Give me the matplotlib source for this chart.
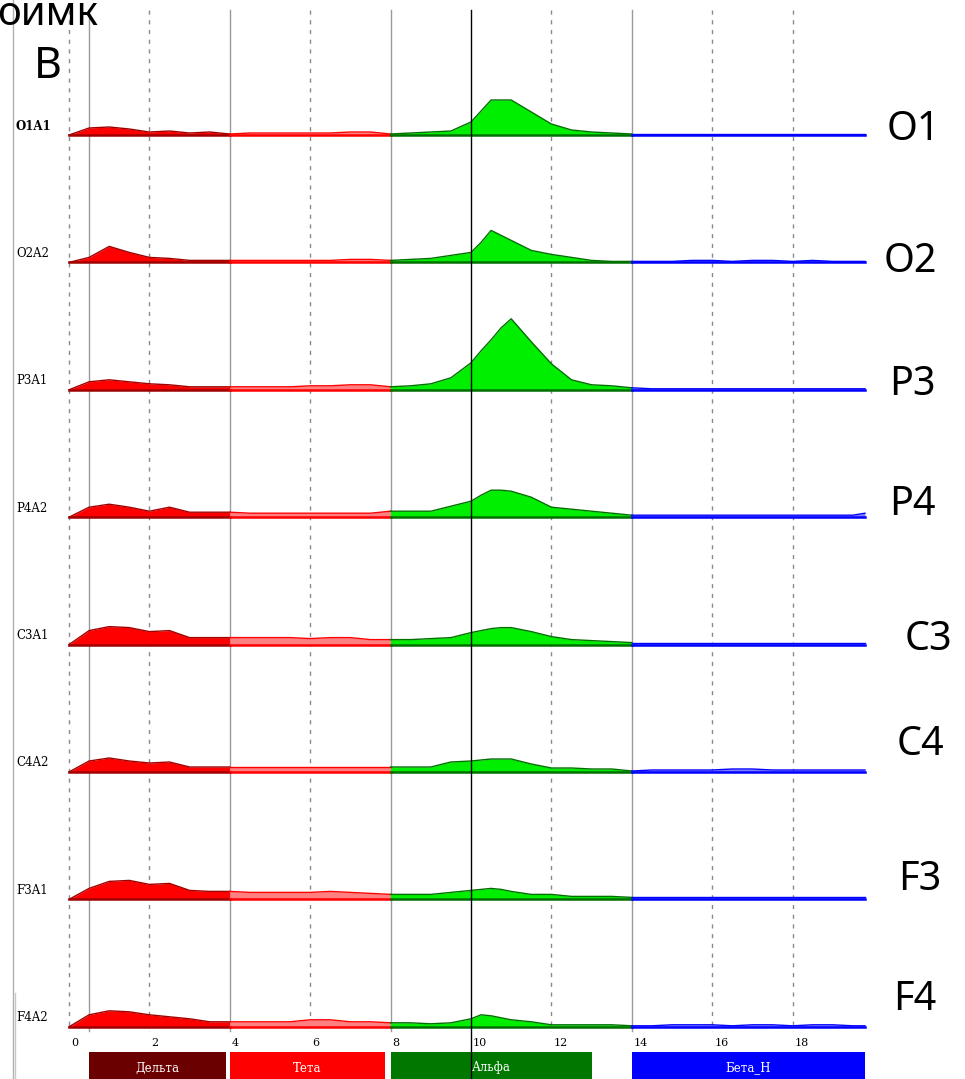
import matplotlib
matplotlib.use("Agg")
import matplotlib.pyplot as plt
import numpy as np

# spectrum frequencies, Hz
freqs = [0, 0.5, 1, 1.5, 2, 2.5, 3, 3.5, 4, 4.5, 5, 5.5, 6, 6.5, 7, 7.5,
         8, 8.5, 9, 9.5, 10, 10.25, 10.5, 10.75, 11, 11.5, 12, 12.5, 13, 13.5,
         14, 14.5, 15, 15.5, 16, 16.5, 17, 17.5, 18, 18.5, 19, 19.5, 19.8]

channels = ["O1A1", "O2A2", "P3A1", "P4A2", "C3A1", "C4A2", "F3A1", "F4A2"]
right_labels = ["O1", "O2", "P3", "P4", "C3", "C4", "F3", "F4"]

# amplitudes: delta 0-4 | theta 4.5-7.5 | alpha 8-13.5 | beta 14-19.8
o1 = ([0, 7, 8, 6, 3, 4, 2, 3, 1] + [2, 2, 2, 2, 2, 3, 3]
      + [1, 2, 3, 4, 13, 24, 35, 35, 35, 23, 11, 5, 3, 2]
      + [1, 1, 1, 1, 1, 1, 1, 1, 1, 1, 1, 1, 1])
o2 = ([0, 5, 16, 10, 5, 4, 2, 2, 2] + [2, 2, 2, 2, 2, 3, 3]
      + [2, 3, 4, 7, 10, 20, 32, 27, 22, 12, 8, 5, 2, 1]
      + [1, 1, 1, 2, 2, 1, 2, 2, 1, 2, 1, 1, 1])
p3 = ([0, 8, 10, 8, 6, 5, 3, 3, 3] + [3, 3, 3, 4, 4, 5, 5]
      + [3, 4, 6, 12, 27, 39, 50, 62, 71, 48, 26, 10, 5, 4]
      + [2, 1, 1, 1, 1, 1, 1, 1, 1, 1, 1, 1, 1])
p4 = ([0, 10, 13, 10, 6, 10, 5, 5, 5] + [4, 4, 4, 4, 4, 4, 4]
      + [6, 6, 6, 11, 16, 22, 27, 27, 26, 20, 10, 8, 6, 4]
      + [2, 2, 2, 2, 2, 2, 2, 2, 2, 2, 2, 2, 4])
c3 = ([0, 14, 18, 17, 13, 14, 7, 7, 7] + [7, 7, 7, 6, 7, 7, 5]
      + [5, 5, 6, 7, 12, 14, 16, 17, 17, 13, 8, 5, 4, 3]
      + [2, 2, 2, 2, 2, 2, 2, 2, 2, 2, 2, 2, 2])
c4 = ([0, 11, 14, 11, 9, 10, 5, 5, 5] + [5, 5, 5, 5, 5, 5, 5]
      + [5, 5, 5, 10, 11, 12, 13, 13, 13, 8, 4, 4, 3, 3]
      + [1, 2, 2, 2, 2, 3, 3, 2, 2, 2, 2, 2, 2])
f3 = ([0, 11, 18, 19, 15, 16, 9, 8, 8] + [7, 7, 7, 7, 8, 7, 6]
      + [5, 5, 5, 7, 9, 10, 11, 10, 8, 5, 5, 3, 3, 3]
      + [2, 2, 2, 2, 2, 2, 2, 2, 2, 2, 2, 2, 2])
f4 = ([0, 12, 16, 15, 12, 10, 8, 5, 5] + [5, 5, 5, 7, 7, 5, 5]
      + [4, 4, 3, 4, 8, 12, 11, 9, 7, 5, 2, 2, 2, 2]
      + [1, 1, 2, 2, 2, 1, 2, 2, 1, 2, 2, 1, 1])
spectra = [o1, o2, p3, p4, c3, c4, f3, f4]

bands = [("Дельта", 0, 4), ("Тета", 4, 8), ("Альфа", 8, 14), ("Бета_H", 14, 19.8)]
band_fill = ["#ff0000", "#ff8080", "#00ee00", "#8080ff"]
band_edge = ["#a00000", "#ff0000", "#007000", "#0000ff"]
bar_spans = [(0.5, 3.9), (4.0, 7.85), (8.0, 13.0), (14.0, 19.8)]
bar_colors = ["#6b0000", "#ff0000", "#007800", "#0000ff"]

W, H = 965, 1079
fig = plt.figure(figsize=(W / 100, H / 100), dpi=100)


def px(x, y):
    return x / W, 1 - y / H


ax = fig.add_axes([13 / W, 0, (870 - 13) / W, 1])
ax.set_xlim((13 - 69) / 40.2, (870 - 69) / 40.2)
ax.set_ylim(H, 0)
ax.axis("off")

# grid lines
for g in [0, 2, 6, 12, 16, 18]:
    ax.plot([g, g], [10, 1031], color="#8a8a8a", lw=1, ls=(0, (3, 4)), zorder=1)
for g in [0.5, 4, 8, 14]:
    ax.plot([g, g], [10, 1031], color="#9a9a9a", lw=1, zorder=1)
ax.plot([10, 10], [10, H], color="black", lw=1, zorder=5)

f = np.array(freqs)
base0, step = 135, 127.4
for i, (name, amp) in enumerate(zip(channels, spectra)):
    a = np.array(amp, dtype=float)
    base = base0 + i * step
    for (bname, lo, hi), fc, ec in zip(bands, band_fill, band_edge):
        m = (f >= lo) & (f <= hi)
        ax.fill_between(f[m], base, base - a[m], color=fc, lw=0, zorder=2)
        ax.plot(f[m], base - a[m], color=ec, lw=1, zorder=3)
        ax.plot([f[m][0], f[m][-1]], [base, base], color=ec, lw=1.8, zorder=3)
    fig.text(*px(16, base - 9), name, ha="left", va="center",
             family="DejaVu Serif", fontsize=8.5,
             fontweight="bold" if i == 0 else "normal")

# x tick labels
for t in range(0, 20, 2):
    ax.text(t + 0.05, 1043, str(t), ha="left", va="center",
            family="DejaVu Serif", fontsize=8)

# band bar
for (bname, lo, hi), (x0, x1), c in zip(bands, bar_spans, bar_colors):
    ax.fill_between([x0, x1], 1052, H, color=c, lw=0, zorder=4)
    ax.text((x0 + x1) / 2, 1068, bname, ha="center", va="center",
            color="white", family="DejaVu Serif", fontsize=8.5, zorder=6)

# left border
fig.add_artist(plt.Line2D([13 / W, 13 / W], [0, 1], color="#b0b0b0", lw=1))
fig.add_artist(plt.Line2D([15 / W, 15 / W], [0, 0.08], color="#c8c8c8", lw=1))

# right channel labels
right_pos = [(913, 130), (910, 262), (912, 385), (912, 505),
             (928, 640), (920, 745), (920, 880), (915, 1000)]
for lab, (x, y) in zip(right_labels, right_pos):
    fig.text(*px(x, y), lab, ha="center", va="center",
             family="Noto Sans", fontsize=28.5)

fig.text(*px(-3, 25), "оимк", ha="left", va="baseline", family="Noto Sans", fontsize=29)
fig.text(*px(48, 67), "В", ha="center", va="center", family="Noto Sans", fontsize=31)

fig.savefig("out.png", dpi=100)
